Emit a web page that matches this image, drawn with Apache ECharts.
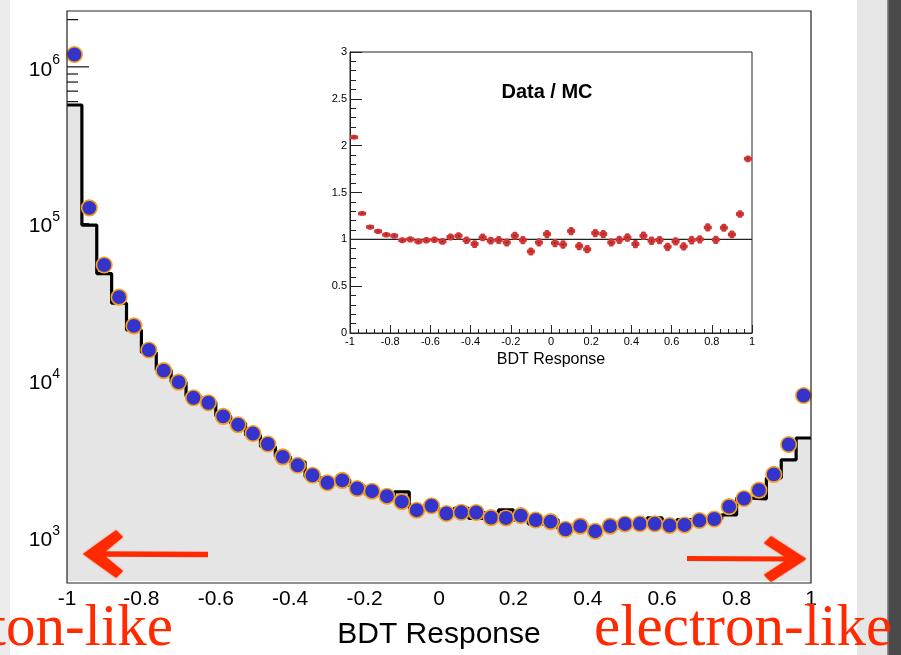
<!DOCTYPE html>
<html>
<head>
<meta charset="utf-8">
<script src="https://cdn.jsdelivr.net/npm/echarts@6/dist/echarts.min.js"></script>
<style>
  html, body { margin: 0; padding: 0; background: #fff; }
  #chart { width: 901px; height: 655px; }
</style>
</head>
<body>
<div id="chart"></div>
<script>
// BDT response: data vs. simulated distribution (log scale) with a Data/MC ratio inset.

const binWidth = 0.04;
const binCenters = [
  -0.98, -0.94, -0.90, -0.86, -0.82, -0.78, -0.74, -0.70, -0.66, -0.62,
  -0.58, -0.54, -0.50, -0.46, -0.42, -0.38, -0.34, -0.30, -0.26, -0.22,
  -0.18, -0.14, -0.10, -0.06, -0.02, 0.02, 0.06, 0.10, 0.14, 0.18,
  0.22, 0.26, 0.30, 0.34, 0.38, 0.42, 0.46, 0.50, 0.54, 0.58,
  0.62, 0.66, 0.70, 0.74, 0.78, 0.82, 0.86, 0.90, 0.94, 0.98
];

// Measured events per bin
const dataCounts = [
  1.199e6, 1.262e5, 5.45e4, 3.40e4, 2.23e4, 1.566e4, 1.157e4, 9770, 7760, 7220,
  5910, 5230, 4590, 3940, 3260, 2880, 2490, 2230, 2310, 2050,
  1970, 1830, 1690, 1490, 1590, 1420, 1445, 1440, 1337, 1330,
  1377, 1290, 1260, 1127, 1180, 1095, 1180, 1218, 1220, 1220,
  1190, 1200, 1280, 1310, 1570, 1770, 2000, 2520, 3910, 8030
];

// Simulated events per bin
const mcCounts = [
  5.71e5, 9.8e4, 4.81e4, 3.11e4, 2.10e4, 1.51e4, 1.169e4, 9770, 7930, 7290,
  5930, 5350, 4480, 3800, 3290, 3030, 2440, 2260, 2330, 2120,
  1900, 1840, 1950, 1540, 1510, 1480, 1530, 1320, 1440, 1500,
  1290, 1220, 1300, 1130, 1160, 1150, 1140, 1240, 1230, 1330,
  1220, 1300, 1290, 1310, 1390, 1780, 1760, 2390, 3120, 4300
];

// Data / MC per bin and its uncertainty
const ratio = [
  2.09, 1.277, 1.131, 1.085, 1.049, 1.038, 0.99, 1.0, 0.978, 0.99,
  0.996, 0.978, 1.024, 1.038, 0.99, 0.949, 1.02, 0.985, 0.992, 0.967,
  1.038, 0.992, 0.87, 0.967, 1.056, 0.96, 0.945, 1.088, 0.928, 0.895,
  1.067, 1.056, 0.967, 0.995, 1.02, 0.949, 1.038, 0.985, 0.992, 0.92,
  0.978, 0.924, 0.99, 1.0, 1.127, 0.995, 1.124, 1.052, 1.27, 1.859
];
const ratioErr = [
  0.002, 0.003, 0.004, 0.005, 0.006, 0.007, 0.008, 0.009, 0.010, 0.011,
  0.012, 0.013, 0.014, 0.015, 0.016, 0.017, 0.018, 0.018, 0.019, 0.019,
  0.020, 0.020, 0.020, 0.020, 0.021, 0.021, 0.021, 0.021, 0.021, 0.021,
  0.021, 0.021, 0.021, 0.021, 0.021, 0.021, 0.021, 0.021, 0.021, 0.021,
  0.021, 0.021, 0.021, 0.021, 0.021, 0.020, 0.020, 0.018, 0.016, 0.012
];

const xTicks = { min: -1, max: 1, step: 0.2 };
const yLogRange = { min: 527, max: 2.27e6 };
const ratioRange = { min: 0, max: 3, step: 0.5 };
const decadeLabels = [3, 4, 5, 6];

// layout
const MAIN = { left: 67, top: 11, width: 744, height: 572 };
const INSET = { left: 350, top: 52, width: 402, height: 281 };
const FONT = '"Liberation Sans", Helvetica, Arial, sans-serif';
const SERIF = '"Liberation Serif", "Times New Roman", serif';
const RED = '#ff2a00';

// log-axis ticks: decades (long) and 2..9 x 10^k (short), drawn beneath the histogram
const logTicks = [];
for (let k = 2; k <= 6; k++) {
  for (let m = 1; m <= 9; m++) {
    const v = m * Math.pow(10, k);
    if (v > yLogRange.min && v < yLogRange.max) logTicks.push([-1, v, m === 1 ? 22 : 11]);
  }
}

// histogram outline: each bin's value starts at its lower edge
const histPoints = binCenters.map((c, i) => [c - binWidth / 2, mcCounts[i]]);
histPoints.push([binCenters[binCenters.length - 1] + binWidth / 2, mcCounts[mcCounts.length - 1]]);

const dataPoints = binCenters.map((c, i) => [c, dataCounts[i]]);
const ratioPoints = binCenters.map((c, i) => [c, ratio[i], ratioErr[i]]);

const chart = echarts.init(document.getElementById('chart'), null, { renderer: 'canvas' });

// hand-drawn style arrows along the bottom of the main frame
function arrowLeft() {
  return [
    { type: 'line', shape: { x1: 100, y1: 554, x2: 208, y2: 554.5 }, style: { stroke: RED, lineWidth: 5.5 }, z: 50 },
    { type: 'polygon', shape: { points: [[84, 554], [116, 531], [122, 537], [105, 551], [105, 557], [122, 571], [116, 577]] },
      style: { fill: RED, stroke: RED, lineWidth: 1.5, lineJoin: 'round', shadowBlur: 2, shadowColor: 'rgba(255,42,0,0.6)' }, z: 50 }
  ];
}
function arrowRight() {
  return [
    { type: 'line', shape: { x1: 687, y1: 558.5, x2: 790, y2: 559 }, style: { stroke: RED, lineWidth: 5 }, z: 50 },
    { type: 'polygon', shape: { points: [[805, 559], [771, 537], [765, 543], [785, 556], [785, 562], [765, 575], [771, 581]] },
      style: { fill: RED, stroke: RED, lineWidth: 1.5, lineJoin: 'round', shadowBlur: 2, shadowColor: 'rgba(255,42,0,0.6)' }, z: 50 }
  ];
}

const option = {
  backgroundColor: '#ffffff',
  animation: false,
  grid: [
    { left: MAIN.left, top: MAIN.top, width: MAIN.width, height: MAIN.height, show: false },
    { left: INSET.left, top: INSET.top, width: INSET.width, height: INSET.height, show: true,
      backgroundColor: '#ffffff', borderColor: '#222', borderWidth: 1 }
  ],
  xAxis: [
    {
      gridIndex: 0, type: 'value', min: xTicks.min, max: xTicks.max, interval: xTicks.step,
      name: 'BDT Response', nameLocation: 'middle', nameGap: 39,
      nameTextStyle: { fontFamily: FONT, fontSize: 30, color: '#000' },
      axisLine: { show: false, onZero: false }, axisTick: { show: false }, splitLine: { show: false },
      axisLabel: { fontFamily: FONT, fontSize: 21, color: '#000', margin: 8 }
    },
    {
      gridIndex: 1, type: 'value', min: xTicks.min, max: xTicks.max, interval: xTicks.step,
      name: 'BDT Response', nameLocation: 'middle', nameGap: 19,
      nameTextStyle: { fontFamily: FONT, fontSize: 16, color: '#000' },
      axisLine: { show: true, onZero: false, lineStyle: { color: '#222', width: 1 } },
      axisTick: { show: true, inside: true, length: 8, lineStyle: { color: '#222', width: 1 } },
      minorTick: { show: true, splitNumber: 5, length: 4, lineStyle: { color: '#222', width: 1 } },
      splitLine: { show: false },
      axisLabel: { fontFamily: FONT, fontSize: 11, color: '#000', margin: 3 }
    }
  ],
  yAxis: [
    {
      gridIndex: 0, type: 'log', logBase: 10, min: yLogRange.min, max: yLogRange.max,
      axisLine: { show: false, onZero: false }, splitLine: { show: false },
      axisTick: { show: false },
      axisLabel: {
        margin: 7, color: '#000',
        formatter: function (v) {
          const e = Math.log10(v);
          const r = Math.round(e);
          if (Math.abs(e - r) > 1e-6 || decadeLabels.indexOf(r) < 0) return '';
          return '{b|10}{s|' + r + '}';
        },
        rich: {
          b: { fontFamily: FONT, fontSize: 21, color: '#000', padding: [6, 0, 0, 0] },
          s: { fontFamily: FONT, fontSize: 14, color: '#000', verticalAlign: 'top', lineHeight: 14 }
        }
      }
    },
    {
      gridIndex: 1, type: 'value', min: ratioRange.min, max: ratioRange.max, interval: ratioRange.step,
      axisLine: { show: true, onZero: false, lineStyle: { color: '#222', width: 1 } },
      axisTick: { show: true, inside: true, length: 12, lineStyle: { color: '#222', width: 1 } },
      minorTick: { show: true, splitNumber: 5, length: 6, lineStyle: { color: '#222', width: 1 } },
      splitLine: { show: false },
      axisLabel: { fontFamily: FONT, fontSize: 11, color: '#000', margin: 3 }
    }
  ],
  series: [
    {
      name: 'log ticks', type: 'custom', xAxisIndex: 0, yAxisIndex: 0, z: 1, silent: true,
      data: logTicks,
      renderItem: function (params, api) {
        const p = api.coord([api.value(0), api.value(1)]);
        return { type: 'line', shape: { x1: p[0], y1: p[1], x2: p[0] + api.value(2), y2: p[1] },
                 style: { stroke: '#111', lineWidth: 1.2 } };
      }
    },
    {
      name: 'MC', type: 'line', xAxisIndex: 0, yAxisIndex: 0, z: 2,
      step: 'end', showSymbol: false, symbol: 'none',
      data: histPoints,
      lineStyle: { color: '#000', width: 3.2 },
      areaStyle: { color: '#e5e5e5', opacity: 1, origin: 'start' }
    },
    {
      name: 'Data', type: 'scatter', xAxisIndex: 0, yAxisIndex: 0, z: 3,
      data: dataPoints, symbol: 'circle', symbolSize: 15.5,
      itemStyle: { color: '#3434cc', borderColor: '#f5a01e', borderWidth: 1.6, opacity: 1 }
    },
    {
      name: 'unity', type: 'line', xAxisIndex: 1, yAxisIndex: 1, z: 3,
      data: [[xTicks.min, 1], [xTicks.max, 1]], showSymbol: false, symbol: 'none',
      lineStyle: { color: '#222', width: 1.2 }
    },
    {
      name: 'Data / MC', type: 'custom', xAxisIndex: 1, yAxisIndex: 1, z: 4,
      data: ratioPoints,
      renderItem: function (params, api) {
        const c = api.coord([api.value(0), api.value(1)]);
        const w = api.size([binWidth, 0])[0];
        const e = api.size([0, api.value(2)])[1];
        const col = '#d23535';
        return {
          type: 'group',
          children: [
            { type: 'rect', shape: { x: c[0] - w / 2, y: c[1] - 2, width: w, height: 4, r: 1 }, style: { fill: col } },
            { type: 'rect', shape: { x: c[0] - 2.5, y: c[1] - e - 2.2, width: 5, height: 2 * e + 4.4, r: 1.5 }, style: { fill: col } },
            { type: 'rect', shape: { x: c[0] - 0.5, y: c[1] - 0.5, width: 1, height: 1 }, style: { fill: '#3a1010' } }
          ]
        };
      }
    }
  ],
  graphic: [
    { type: 'rect', shape: { x: 0, y: 0, width: 10, height: 655 }, style: { fill: '#ebebeb' }, z: -10 },
    { type: 'rect', shape: { x: 857, y: 0, width: 30, height: 655 }, style: { fill: '#e6e6e6' }, z: -10 },
    { type: 'rect', shape: { x: 887, y: 0, width: 14, height: 655 }, style: { fill: '#4a4a4a' }, z: -10 },
    { type: 'rect', shape: { x: 887, y: 0, width: 1.5, height: 655 }, style: { fill: '#8c8c8c' }, z: -9 },
    { type: 'rect', shape: { x: MAIN.left, y: MAIN.top, width: MAIN.width, height: MAIN.height },
      style: { fill: 'none', stroke: '#222', lineWidth: 1.2 }, z: 40 },
    { type: 'text', x: 547, y: 92, z: 45,
      style: { text: 'Data / MC', font: 'bold 20px ' + FONT, fill: '#000', align: 'center', verticalAlign: 'middle' } },
    ...arrowLeft(),
    ...arrowRight(),
    { type: 'text', x: 173, y: 629, z: 60,
      style: { text: 'ton-like', font: '59px ' + SERIF, fill: RED, align: 'right', verticalAlign: 'middle' } },
    { type: 'text', x: 594, y: 629, z: 60,
      style: { text: 'electron-like', font: '59px ' + SERIF, fill: RED, align: 'left', verticalAlign: 'middle' } }
  ]
};

chart.setOption(option);
</script>
</body>
</html>
